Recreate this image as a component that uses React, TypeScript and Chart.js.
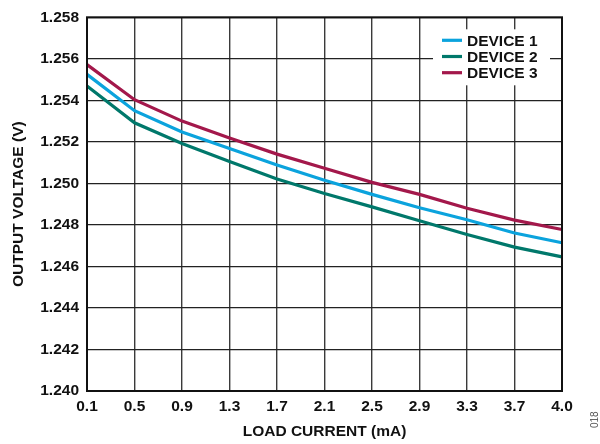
import React, { useEffect, useRef } from 'react';
import { Chart, registerables } from 'chart.js';

Chart.register(...registerables);

const loadCurrent = ['0.1', '0.5', '0.9', '1.3', '1.7', '2.1', '2.5', '2.9', '3.3', '3.7', '4.0'];
const device1 = [1.25525, 1.2535, 1.25248, 1.25168, 1.25089, 1.25015, 1.24947, 1.24883, 1.24825, 1.24761, 1.24714];
const device2 = [1.25469, 1.25292, 1.25192, 1.25105, 1.25021, 1.24951, 1.24887, 1.2482, 1.24754, 1.24693, 1.24646];
const device3 = [1.25572, 1.25403, 1.253, 1.25219, 1.25141, 1.25073, 1.25005, 1.24947, 1.2488, 1.24823, 1.24778];
const yTicks = [1.24, 1.242, 1.244, 1.246, 1.248, 1.25, 1.252, 1.254, 1.256, 1.258];
const seriesNames = ['DEVICE 1', 'DEVICE 2', 'DEVICE 3'];
const seriesColors = ['#0BA3DD', '#00786B', '#A3184B'];

const FONT = "'Liberation Sans', Arial, sans-serif";
const FS = 15.5;

const framePlugin = {
  id: 'frame',
  afterDatasetsDraw(chart: any) {
    const { ctx, chartArea: a } = chart;
    ctx.save();
    ctx.strokeStyle = '#111';
    ctx.lineWidth = 2;
    ctx.strokeRect(a.left, a.top, a.right - a.left, a.bottom - a.top);
    ctx.restore();
  },
};

const legendPlugin = {
  id: 'insideLegend',
  afterDraw(chart: any) {
    const { ctx, chartArea: a } = chart;
    const bx = a.right - 129;
    const by = a.top + 12;
    ctx.save();
    ctx.fillStyle = '#fff';
    ctx.fillRect(bx, by, 117, 56);
    ctx.font = `bold ${FS}px ${FONT}`;
    ctx.textBaseline = 'middle';
    ctx.textAlign = 'left';
    chart.data.datasets.forEach((ds: any, i: number) => {
      const y = a.top + 23 + i * 16.2;
      ctx.strokeStyle = ds.borderColor;
      ctx.lineWidth = 3.2;
      ctx.beginPath();
      ctx.moveTo(bx + 9, y);
      ctx.lineTo(bx + 29, y);
      ctx.stroke();
      ctx.fillStyle = '#111';
      ctx.fillText(ds.label, bx + 34, y + 1);
    });
    ctx.restore();
  },
};

export default function App() {
  const ref = useRef<HTMLCanvasElement | null>(null);

  useEffect(() => {
    document.body.style.margin = '0';
    const canvas = ref.current;
    if (!canvas) return;
    const allSeries = [device1, device2, device3];
    const chart = new Chart(canvas, {
      type: 'line',
      data: {
        labels: loadCurrent,
        datasets: allSeries.map((d, i) => ({
          label: seriesNames[i],
          data: d,
          borderColor: seriesColors[i],
          backgroundColor: seriesColors[i],
          borderWidth: 3.2,
          pointRadius: 0,
          tension: 0,
          fill: false,
        })),
      },
      options: {
        animation: false,
        responsive: false,
        devicePixelRatio: 1,
        layout: { padding: { top: 12, right: 38, left: 0, bottom: 0 } },
        plugins: {
          legend: { display: false },
          tooltip: { enabled: false },
        },
        scales: {
          x: {
            type: 'category',
            offset: false,
            grid: { color: '#3a3a3a', lineWidth: 1.4, drawTicks: false },
            border: { display: false },
            ticks: {
              color: '#111',
              font: { family: FONT, size: FS, weight: 'bold' },
              padding: 6,
              maxRotation: 0,
              autoSkip: false,
            },
            title: {
              display: true,
              text: 'LOAD CURRENT (mA)',
              color: '#111',
              font: { family: FONT, size: FS, weight: 'bold' },
              padding: { top: 0, bottom: 3 },
            },
            afterFit(scale: any) {
              scale.height = 53;
            },
          },
          y: {
            min: 1.24,
            max: 1.258,
            grid: { color: '#222', lineWidth: 1.2, drawTicks: false },
            border: { display: false },
            afterBuildTicks(scale: any) {
              scale.ticks = yTicks.map((v) => ({ value: v }));
            },
            ticks: {
              color: '#111',
              font: { family: FONT, size: FS, weight: 'bold' },
              padding: 8,
              callback: (v: any) => Number(v).toFixed(3),
            },
            title: {
              display: true,
              text: 'OUTPUT VOLTAGE (V)',
              color: '#111',
              font: { family: FONT, size: FS, weight: 'bold' },
              padding: { top: 9, bottom: 0 },
            },
            afterFit(scale: any) {
              scale.width = 87;
            },
          },
        },
      },
      plugins: [framePlugin, legendPlugin],
    });
    return () => chart.destroy();
  }, []);

  return (
    <div style={{ position: 'relative', width: 600, height: 444, background: '#fff' }}>
      <canvas ref={ref} width={600} height={444} style={{ display: 'block', width: 600, height: 444 }} />
      <div
        style={{
          position: 'absolute',
          left: 590,
          top: 428,
          fontFamily: FONT,
          fontSize: 10,
          color: '#555',
          transform: 'rotate(-90deg)',
          transformOrigin: 'left top',
          whiteSpace: 'nowrap',
          lineHeight: '10px',
        }}
      >
        018
      </div>
    </div>
  );
}
